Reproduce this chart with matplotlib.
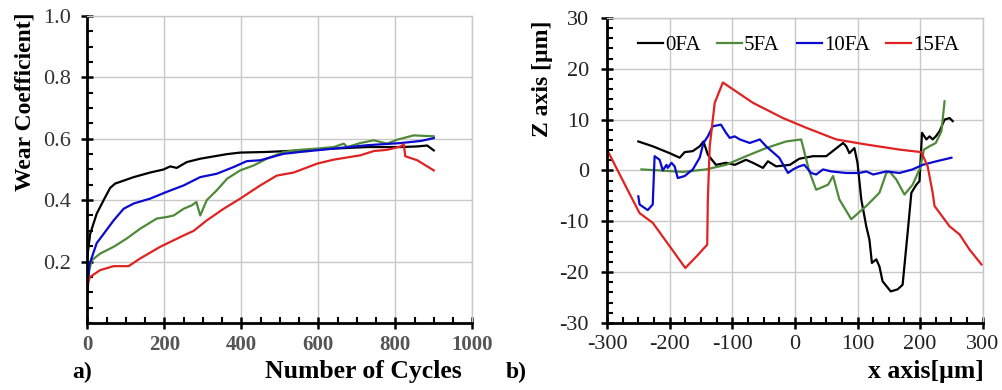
import numpy as np
import matplotlib
matplotlib.use("Agg")
import matplotlib.pyplot as plt
from matplotlib.ticker import MultipleLocator

plt.rcParams['font.family'] = ['Liberation Serif', 'DejaVu Serif']
plt.rcParams['axes.unicode_minus'] = False

# ---- panel a: wear coefficient vs cycles ----
a_black_x = [0, 7, 24, 42, 59, 72, 120, 163, 198, 215, 232, 258, 293, 363, 397, 466, 553, 640, 727, 814, 857, 883, 900]
a_black_y = [0.22, 0.29, 0.356, 0.40, 0.44, 0.454, 0.475, 0.49, 0.50, 0.51, 0.505, 0.524, 0.535, 0.55, 0.555, 0.557,
             0.562, 0.568, 0.573, 0.573, 0.575, 0.578, 0.562]

a_blue_x = [0, 5, 24, 42, 68, 94, 120, 163, 206, 250, 293, 336, 380, 414, 449, 510, 553, 640, 727, 814, 867, 900]
a_blue_y = [0.096, 0.19, 0.26, 0.29, 0.334, 0.372, 0.389, 0.405, 0.427, 0.448, 0.475, 0.486, 0.508, 0.527, 0.53,
            0.551, 0.557, 0.568, 0.579, 0.586, 0.593, 0.602]

a_green_x = [0, 11, 33, 68, 102, 137, 180, 206, 224, 250, 271, 283, 293, 310, 336, 363, 397, 432, 466, 510, 553,
             597, 640, 666, 675, 709, 744, 779, 805, 848, 900]
a_green_y = [0.15, 0.204, 0.226, 0.248, 0.275, 0.307, 0.34, 0.345, 0.35, 0.372, 0.383, 0.394, 0.35, 0.40, 0.432,
             0.47, 0.497, 0.513, 0.535, 0.557, 0.564, 0.568, 0.573, 0.584, 0.573, 0.586, 0.595, 0.584, 0.597,
             0.611, 0.608]

a_red_x = [0, 7, 33, 68, 107, 137, 189, 250, 276, 310, 354, 397, 449, 492, 536, 597, 640, 709, 744, 779, 814, 822,
           826, 857, 900]
a_red_y = [0.128, 0.15, 0.172, 0.185, 0.185, 0.21, 0.248, 0.285, 0.30, 0.334, 0.372, 0.405, 0.448, 0.48, 0.49,
           0.519, 0.532, 0.546, 0.56, 0.564, 0.575, 0.582, 0.543, 0.53, 0.497]

# ---- panel b: surface profiles ----
b_black_x = [-250, -227, -200, -184, -176, -163, -152, -146, -139, -126, -110, -96, -78, -67, -51, -43, -30, -8,
             7, 29, 50, 77, 82, 87, 95, 100, 106, 114, 119, 123, 130, 135, 140, 153, 164, 172, 180, 186, 194,
             199, 203, 210, 215, 220, 225, 231, 239, 247, 252]
b_black_y = [5.7, 4.75, 3.4, 2.5, 3.6, 3.8, 4.75, 5.7, 3.1, 1.1, 1.5, 1.1, 2.1, 1.5, 0.5, 1.8, 0.8, 1.1,
             2.3, 2.8, 2.8, 5.4, 4.75, 3.4, 4.4, 1.5, -5.7, -11, -13.6, -18.2, -17.5, -18.9, -21.8, -23.8, -23.4,
             -22.5, -12.3, -4.4, -2.8, -2.1, 7.4, 6.1, 6.7, 6.1, 6.7, 7.7, 10, 10.3, 9.7]

b_green_x = [-245, -216, -179, -142, -110, -78, -46, -14, 10, 23, 34, 53, 61, 71, 90, 114, 135, 146, 151, 162, 175,
             188, 200, 206, 215, 225, 234, 239]
b_green_y = [0.2, 0.0, -0.3, 0.2, 1.1, 2.8, 4.4, 5.7, 6.1, -0.2, -3.8, -2.8, -1.1, -5.7, -9.6, -7.0, -4.4, -0.5,
             -0.2, -1.8, -4.75, -2.8, 0.5, 4.1, 4.75, 5.4, 7.7, 13.6]

b_blue_x = [-250, -248, -235, -227, -224, -216, -211, -205, -203, -197, -192, -187, -176, -163, -152, -146, -139,
            -131, -118, -110, -104, -96, -88, -72, -56, -46, -25, -11, -3, 7, 15, 26, 34, 45, 58, 82, 103, 114,
            125, 146, 167, 188, 204, 226, 250]
b_blue_y = [-5.1, -6.7, -7.8, -6.7, 2.8, 2.1, 0.0, 1.1, 0.5, 1.5, 0.8, -1.5, -1.1, 0.2, 2.5, 5.4, 6.7,
            8.7, 9.0, 7.4, 6.4, 6.7, 6.1, 5.4, 6.1, 4.75, 2.5, -0.5, 0.2, 0.8, 1.1, -0.5, -0.8, 0.2, -0.2, -0.5,
            -0.5, -0.2, -0.8, -0.2, -0.5, 0.2, 1.1, 1.8, 2.5]

b_red_x = [-300, -266, -248, -227, -200, -175, -157, -140, -139, -136, -128, -115, -67, -19, 18, 66, 114, 167,
           202, 212, 220, 223, 247, 263, 279, 298]
b_red_y = [4.1, -4.1, -8.4, -10.3, -14.9, -19.2, -16.9, -14.6, -5.7, 4.75, 13.3, 17.3, 13.3, 10.3, 8.4, 6.1, 5.1,
           4.1, 3.6, 0.8, -4.4, -7.0, -11, -12.6, -15.6, -18.5]

labels = ['0FA', '5FA', '10FA', '15FA']
colors = ['#000000', '#4f8a3b', '#0a0ad0', '#e02222']

fig = plt.figure(figsize=(10.02, 3.9), dpi=100)
ax1 = fig.add_axes([0.0873, 0.172, 0.384, 0.787])
ax2 = fig.add_axes([0.6058, 0.172, 0.375, 0.782])


def style_axes(ax):
    ax.grid(True, color='#c8c8c8', linewidth=1.0)
    ax.set_axisbelow(True)
    for s in ['top', 'right']:
        ax.spines[s].set_color('#c8c8c8')
        ax.spines[s].set_linewidth(1.0)
    for s in ['left', 'bottom']:
        ax.spines[s].set_color('black')
        ax.spines[s].set_linewidth(2.0)
    ax.tick_params(which='major', direction='inout', length=8, width=1.8, top=False, right=False)
    ax.tick_params(which='minor', direction='in', length=4, width=1.5, top=False, right=False)


for xs, ys, c in [(a_black_x, a_black_y, colors[0]), (a_green_x, a_green_y, colors[1]),
                  (a_blue_x, a_blue_y, colors[2]), (a_red_x, a_red_y, colors[3])]:
    ax1.plot(xs, ys, color=c, linewidth=1.6)
ax1.set_xlim(0, 1000)
ax1.set_ylim(0, 1.0)
ax1.set_xticks([0, 200, 400, 600, 800, 1000])
ax1.set_yticks([0.2, 0.4, 0.6, 0.8, 1.0])
ax1.set_yticklabels(['0.2', '0.4', '0.6', '0.8', '1.0'])
ax1.xaxis.set_minor_locator(MultipleLocator(50))
ax1.yaxis.set_minor_locator(MultipleLocator(0.05))
style_axes(ax1)
ax1.tick_params(axis='x', labelsize=15, pad=5, labelcolor='#555555')
for t in ax1.get_xticklabels():
    t.set_fontweight('bold')
ax1.tick_params(axis='y', labelsize=16, pad=8, labelcolor='#333333')
ax1.set_ylabel('Wear Coefficient]', fontsize=17, fontweight='bold')
ax1.yaxis.set_label_coords(-0.134, 0.72)
fig.text(0.072, 0.03, 'a)', fontsize=17, fontweight='bold')
fig.text(0.264, 0.03, 'Number of Cycles', fontsize=18.5, fontweight='bold')

for xs, ys, c, lab in [(b_black_x, b_black_y, colors[0], labels[0]), (b_green_x, b_green_y, colors[1], labels[1]),
                       (b_blue_x, b_blue_y, colors[2], labels[2]), (b_red_x, b_red_y, colors[3], labels[3])]:
    ax2.plot(xs, ys, color=c, linewidth=1.6, label=lab)
ax2.set_xlim(-300, 300)
ax2.set_ylim(-30, 30)
ax2.set_xticks(np.arange(-300, 301, 100))
ax2.set_yticks(np.arange(-30, 31, 10))
ax2.xaxis.set_minor_locator(MultipleLocator(25))
ax2.yaxis.set_minor_locator(MultipleLocator(2))
style_axes(ax2)
ax2.tick_params(axis='both', labelsize=16, labelcolor='#222222')
ax2.tick_params(axis='x', pad=5)
ax2.tick_params(axis='y', pad=9)
ax2.set_ylabel('Z axis [µm]', fontsize=17, fontweight='bold')
ax2.yaxis.set_label_coords(-0.145, 0.80)
ax2.legend(loc='center', bbox_to_anchor=(0.51, 0.91), ncol=4, frameon=False, fontsize=15,
           handlelength=1.2, handletextpad=0.1, columnspacing=0.8, borderaxespad=0)
fig.text(0.505, 0.03, 'b)', fontsize=17, fontweight='bold')
fig.text(0.866, 0.03, 'x axis[µm]', fontsize=18.5, fontweight='bold')

fig.savefig('out.png', dpi=100)
